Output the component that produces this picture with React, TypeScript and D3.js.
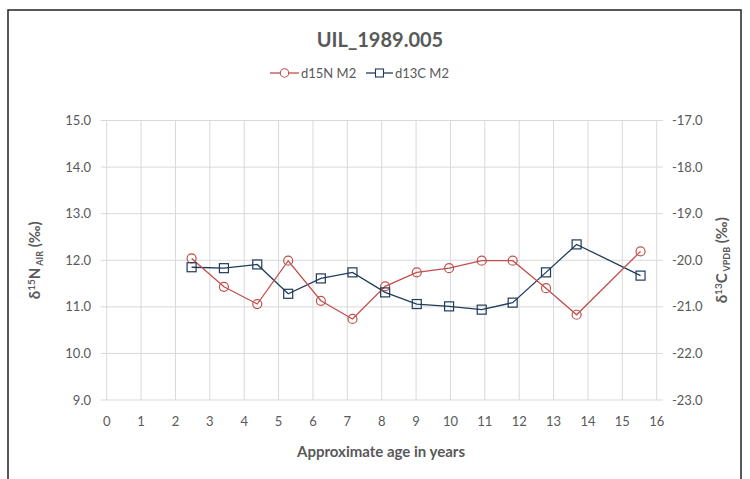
import React from "react";
import * as d3 from "d3";

const ages = [2.47, 3.41, 4.38, 5.28, 6.23, 7.15, 8.1, 9.02, 9.96, 10.91, 11.81, 12.78, 13.67, 15.53];
const d15N = [12.04, 11.43, 11.06, 11.99, 11.13, 10.74, 11.44, 11.74, 11.83, 11.99, 11.99, 11.4, 10.83, 12.19];
const d13C = [-20.15, -20.17, -20.09, -20.72, -20.39, -20.26, -20.69, -20.94, -20.99, -21.06, -20.91, -20.26, -19.66, -20.33];
const xTicks = d3.range(0, 17);
const leftTicks = [9, 10, 11, 12, 13, 14, 15];
const rightTicks = [-23, -22, -21, -20, -19, -18, -17];

const W = 750, H = 479;
const M = { left: 106.7, right: 656.7, top: 120.5, bottom: 400 };
const RED = "#C0504D";
const BLUE = "#1F3B5A";
const TXT = "#595959";
const FONT = "Lato, 'Open Sans', sans-serif";

export default function App() {
  const x = d3.scaleLinear().domain([0, 16]).range([M.left, M.right]);
  const yL = d3.scaleLinear().domain([9, 15]).range([M.bottom, M.top]);
  const yR = d3.scaleLinear().domain([-23, -17]).range([M.bottom, M.top]);
  const nPts = ages.map((a, i) => [x(a), yL(d15N[i])] as [number, number]);
  const cPts = ages.map((a, i) => [x(a), yR(d13C[i])] as [number, number]);
  const line = d3.line();
  const sq = 4.5;
  return (
    <svg width={W} height={H} style={{ position: "absolute", left: 0, top: 0 }} fontFamily={FONT}>
      <rect x={0} y={0} width={W} height={H} fill="#fff" />
      <rect x={8} y={10} width={733} height={H} fill="none" stroke="#222" strokeWidth={1.5} />
      <text x={380} y={47} textAnchor="middle" fontSize={20} fontWeight="bold" fill={TXT}>UIL_1989.005</text>
      {/* legend */}
      <g>
        <line x1={270} x2={299} y1={73} y2={73} stroke={RED} strokeWidth={1.3} />
        <circle cx={284.5} cy={73} r={4.2} fill="#fff" stroke={RED} strokeWidth={1.1} />
        <text x={301} y={77.5} fontSize={13} fill={TXT}>d15N M2</text>
        <line x1={366} x2={393} y1={73} y2={73} stroke={BLUE} strokeWidth={1.3} />
        <rect x={379.5 - 4} y={73 - 4} width={8} height={8} fill="#fff" stroke={BLUE} strokeWidth={1.1} />
        <text x={395} y={77.5} fontSize={13} fill={TXT}>d13C M2</text>
      </g>
      {/* grid */}
      {xTicks.map((t) => (
        <line key={"vx" + t} x1={x(t)} x2={x(t)} y1={M.top} y2={M.bottom} stroke="#d9d9d9" strokeWidth={1} />
      ))}
      {leftTicks.map((t) => (
        <line key={"hy" + t} x1={M.left - 6} x2={M.right + 6} y1={yL(t)} y2={yL(t)} stroke="#d9d9d9" strokeWidth={1} />
      ))}
      {/* left ticks */}
      {leftTicks.map((t) => (
        <text key={"lt" + t} x={91} y={yL(t) + 4.5} textAnchor="end" fontSize={13} fill={TXT}>{t.toFixed(1)}</text>
      ))}
      {rightTicks.map((t) => (
        <text key={"rt" + t} x={672} y={yR(t) + 4.5} textAnchor="start" fontSize={13} fill={TXT}>{t.toFixed(1)}</text>
      ))}
      {xTicks.map((t) => (
        <text key={"xt" + t} x={x(t)} y={426} textAnchor="middle" fontSize={13} fill={TXT}>{t}</text>
      ))}
      <text x={381} y={457} textAnchor="middle" fontSize={15} fontWeight="bold" fill={TXT}>Approximate age in years</text>
      <text transform={`translate(40,${(M.top + M.bottom) / 2}) rotate(-90)`} textAnchor="middle" fontSize={15} fontWeight="bold" fill={TXT}>
        <tspan>δ</tspan><tspan dy={-5} fontSize={10}>15</tspan><tspan dy={5}>N</tspan><tspan dy={3} fontSize={9}> AIR</tspan><tspan dy={-3}> (‰)</tspan>
      </text>
      <text transform={`translate(727,${(M.top + M.bottom) / 2}) rotate(-90)`} textAnchor="middle" fontSize={15} fontWeight="bold" fill={TXT}>
        <tspan>δ</tspan><tspan dy={-5} fontSize={10}>13</tspan><tspan dy={5}>C</tspan><tspan dy={3} fontSize={9}> VPDB</tspan><tspan dy={-3}> (‰)</tspan>
      </text>
      {/* series */}
      <path d={line(cPts) || ""} fill="none" stroke={BLUE} strokeWidth={1.3} />
      <path d={line(nPts) || ""} fill="none" stroke={RED} strokeWidth={1.3} />
      {nPts.map((p, i) => (
        <circle key={"c" + i} cx={p[0]} cy={p[1]} r={4.5} fill="none" stroke={RED} strokeWidth={1.2} />
      ))}
      {cPts.map((p, i) => (
        <rect key={"s" + i} x={p[0] - sq} y={p[1] - sq} width={sq * 2} height={sq * 2} fill="none" stroke={BLUE} strokeWidth={1.2} />
      ))}
    </svg>
  );
}
